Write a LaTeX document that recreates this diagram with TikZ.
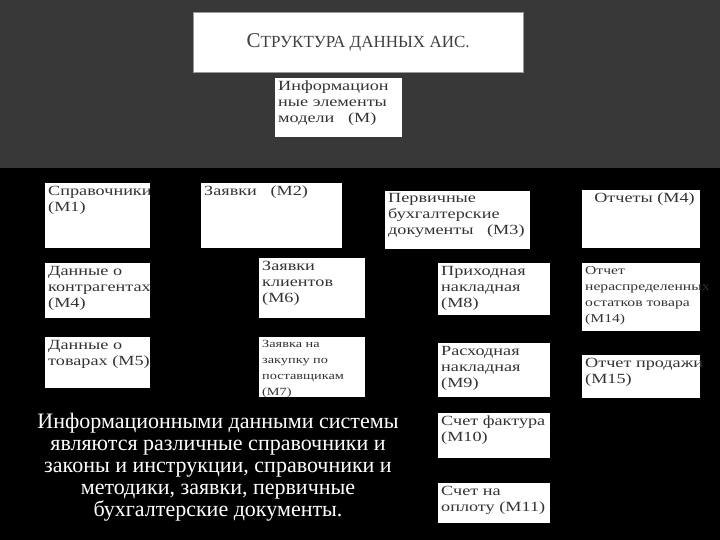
\documentclass[tikz,border=0pt]{standalone}
\usepackage{fontspec}
\setmainfont{Liberation Serif}
\newfontfamily\wideserif[FakeStretch=1.3]{Liberation Serif}
\begin{document}
\begin{tikzpicture}[x=1pt,y=-1pt,
  box/.style={draw=none,fill=white,inner sep=0pt,anchor=north west},
  txt/.style={anchor=north west,inner sep=3pt,font=\wideserif\fontsize{14}{16}\selectfont,align=left,text=black!80}]
\fill[black] (0,0) rectangle (720,540);
\fill[black!78] (0,0) rectangle (720,168);
\useasboundingbox (0,0) rectangle (720,540);
\newcommand\bx[6]{\node[box,minimum width=#4,minimum height=#5] (#1) at (#2,#3) {};
  \node[txt] (#1t) at (#1.north west) {#6};}
\node[box,minimum width=330,minimum height=60,draw=black!40] (title) at (193,12) {};
\node[font=\fontsize{17}{20}\selectfont,text=black!75] (titlet) at (title.center) {{\fontsize{21}{20}\selectfont С}ТРУКТУРА ДАННЫХ АИС.};
\bx{m}{275}{78}{127}{59}{Информацион\\ные элементы\\модели\ \ \ (М)}
\bx{m1}{45}{183}{105}{65}{Справочники\\(М1)}
\bx{m2}{201}{183}{141}{65}{Заявки\ \ \ (М2)}
\bx{m3}{385}{191}{145}{58}{\\[-8pt]Первичные\\бухгалтерские\\документы\ \ \ (М3)}
\bx{m4}{582}{190}{118}{58}{\ \ Отчеты (М4)}
\bx{c4}{45}{263}{105}{55}{Данные о\\контрагентах\\(М4)}
\bx{m6}{259}{258}{106}{60}{Заявки\\клиентов\\(М6)}
\bx{m8}{438}{263}{112}{52}{Приходная\\накладная\\(М8)}
\bx{m14}{582}{263}{118}{68}{\fontsize{12}{15}\selectfont Отчет\\\fontsize{12}{15}\selectfont нераспределенных\\\fontsize{12}{15}\selectfont остатков товара\\\fontsize{12}{15}\selectfont (М14)}
\bx{m5}{45}{337}{105}{51}{Данные о\\товарах (М5)}
\bx{m7}{259}{337}{106}{60}{\fontsize{11}{13.5}\selectfont Заявка на\\\fontsize{11}{13.5}\selectfont закупку по\\\fontsize{11}{13.5}\selectfont поставщикам\\\fontsize{11}{13.5}\selectfont (М7)}
\bx{m9}{438}{343}{112}{54}{Расходная\\накладная\\(М9)}
\bx{m15}{582}{355}{118}{43}{Отчет продажи\\(М15)}
\bx{m10}{438}{413}{112}{45}{Счет фактура\\(М10)}
\bx{m11}{438}{483}{112}{40}{Счет на\\оплоту (М11)}
\node[text=white,align=center,font=\fontsize{22}{22}\selectfont] (desc) at (218,467)
 {Информационными данными системы\\являются различные справочники и\\законы и инструкции, справочники и\\методики, заявки, первичные\\бухгалтерские документы.};
\end{tikzpicture}
\end{document}
